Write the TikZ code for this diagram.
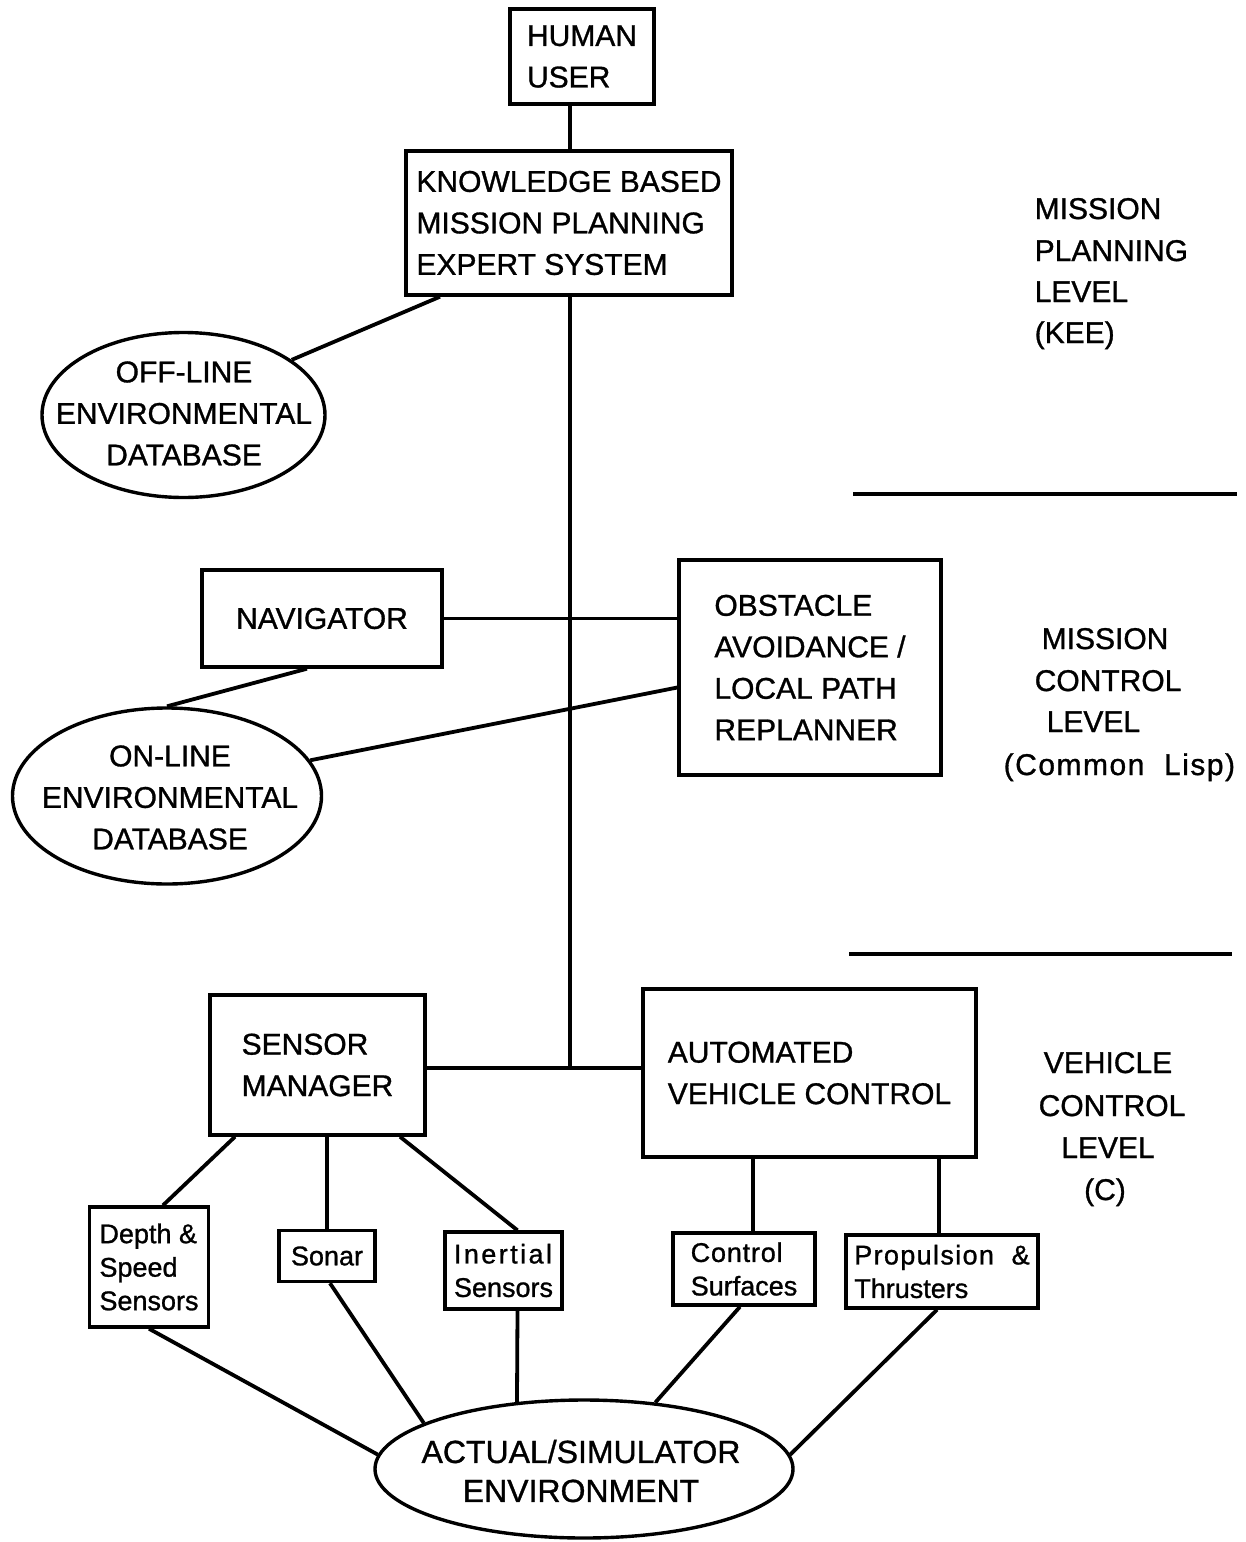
\documentclass[tikz,border=0pt]{standalone}
\usepackage{fontspec}
\setmainfont{Liberation Sans}[FakeBold=1]
\usetikzlibrary{shapes.geometric}

% type sizes used in the chart
\newcommand\boxfont{\fontsize{30}{41.5}\selectfont}
\newcommand\envfont{\fontsize{32}{39}\selectfont}
\newcommand\tagfont{\fontsize{27}{33.5}\selectfont}

\begin{document}
\begin{tikzpicture}[x=1pt,y=-1pt,line width=3.4pt,
  box/.style={draw,rectangle,inner sep=0pt,align=left,font=\boxfont},
  tag/.style={draw,rectangle,inner sep=0pt,align=left,font=\tagfont},
  blob/.style={draw,ellipse,inner sep=0pt},
  blobtext/.style={align=center,inner sep=0pt},
  lvl/.style={anchor=base west,font=\boxfont,inner sep=0pt},
  lvlc/.style={anchor=base,font=\boxfont,inner sep=0pt},
  link/.style={line width=3.8pt},
  rule/.style={line width=3.4pt}]

\fill[white] (0,0) rectangle (1246,1542);
\useasboundingbox (0,0) rectangle (1246,1542);

% ---------- mission planning level ----------
\node[box,minimum width=144pt,minimum height=95pt] (human) at (582,56.5) {HUMAN\\USER};
\node[box,minimum width=326pt,minimum height=144pt] (kb) at (569,223)
  {KNOWLEDGE BASED\\MISSION PLANNING\\EXPERT SYSTEM};
\node[blob,minimum width=283pt,minimum height=165pt] (offdb) at (183.5,415) {};
\node[blobtext,font=\boxfont] (offtext) at (184,413.5) {OFF-LINE\\ENVIRONMENTAL\\DATABASE};

% ---------- mission control level ----------
\node[box,minimum width=240pt,minimum height=97pt] (nav) at (322,618.5) {NAVIGATOR};
\node[box,minimum width=262pt,minimum height=215pt] (obs) at (810,667.5)
  {OBSTACLE\\AVOIDANCE /\\LOCAL PATH\\REPLANNER};
\node[blob,minimum width=309pt,minimum height=176pt] (ondb) at (167,796) {};
\node[blobtext,font=\boxfont] (ontext) at (170,797.5) {ON-LINE\\ENVIRONMENTAL\\DATABASE};

% ---------- vehicle control level ----------
\node[box,minimum width=215pt,minimum height=140pt] (sm) at (317.5,1065) {SENSOR\\MANAGER};
\node[box,minimum width=333pt,minimum height=168pt] (avc) at (809.5,1073)
  {AUTOMATED\\VEHICLE CONTROL};

\node[tag,minimum width=119pt,minimum height=120pt] (depth) at (149,1267)
  {Depth \&\\Speed\\Sensors};
\node[tag,minimum width=96pt,minimum height=51pt] (sonar) at (327,1256) {Sonar};
\node[tag,minimum width=117pt,minimum height=77pt] (inertial) at (503.5,1270.5)
  {\addfontfeatures{LetterSpace=9}Inertial\\Sensors};
\node[tag,minimum width=142pt,minimum height=72pt] (control) at (744,1269)
  {\addfontfeatures{LetterSpace=3}Control\\Surfaces};
\node[tag,minimum width=192pt,minimum height=73pt] (prop) at (942,1271.5)
  {\addfontfeatures{LetterSpace=5}Propulsion \ \&\\Thrusters};

\node[blob,minimum width=418pt,minimum height=138pt] (env) at (584,1469) {};
\node[blobtext,font=\envfont] (envtext) at (581,1471) {ACTUAL/SIMULATOR\\ENVIRONMENT};

% ---------- level captions and dividers ----------
\node[lvl] (mp1) at (1033,219) {MISSION};
\node[lvl] (mp2) at (1033,261) {PLANNING};
\node[lvl] (mp3) at (1033,302) {LEVEL};
\node[lvl] (mp4) at (1033,343) {(KEE)};
\draw[rule] (853,494) -- (1237,494);

\node[lvl] (mc1) at (1040,649) {MISSION};
\node[lvl] (mc2) at (1033,691) {CONTROL};
\node[lvl] (mc3) at (1045,732) {LEVEL};
\node[lvl] (mc4) at (1002,775) {\addfontfeatures{LetterSpace=5}(Common\ \ Lisp)};
\draw[rule] (849,954) -- (1232,954);

\node[lvlc] (vc1) at (1108,1073) {VEHICLE};
\node[lvlc] (vc2) at (1112,1116) {CONTROL};
\node[lvlc] (vc3) at (1108,1158) {LEVEL};
\node[lvlc] (vc4) at (1105,1200) {(C)};

% ---------- connectors ----------
\coordinate (hub) at (570,1068);
\draw[link] (human.south -| hub) -- (kb.north -| hub);
\draw[link] (kb.south -| hub) -- (hub);
\draw[link] ([xshift=-129pt]kb.south) -- (offdb.27);

\draw[link] (nav.east) -- (nav.east -| obs.west);
\draw[link] ([xshift=-15pt]nav.south) -- (ondb.90);
\draw[link] ([yshift=-20pt]obs.west) -- (ondb.14);

\draw[link] (sm.east |- hub) -- (avc.west |- hub);

\draw[link] ([xshift=-82.5pt]sm.south) -- ([xshift=14pt]depth.north);
\draw[link] (sonar.north |- sm.south) -- (sonar.north);
\draw[link] ([xshift=82.5pt]sm.south) -- ([xshift=14pt]inertial.north);
\draw[link] ([xshift=9pt]control.north |- avc.south) -- ([xshift=9pt]control.north);
\draw[link] ([xshift=-3pt]prop.north |- avc.south) -- ([xshift=-3pt]prop.north);

\draw[link] (depth.south) -- (env.176);
\draw[link] ([xshift=3pt]sonar.south) -- (env.164);
\draw[link] ([xshift=14pt]inertial.south) -- (env.135);
\draw[link] ([xshift=-4pt]control.south) -- (env.43);
\draw[link] ([xshift=-5pt]prop.south) -- (env.4);
\end{tikzpicture}
\end{document}
